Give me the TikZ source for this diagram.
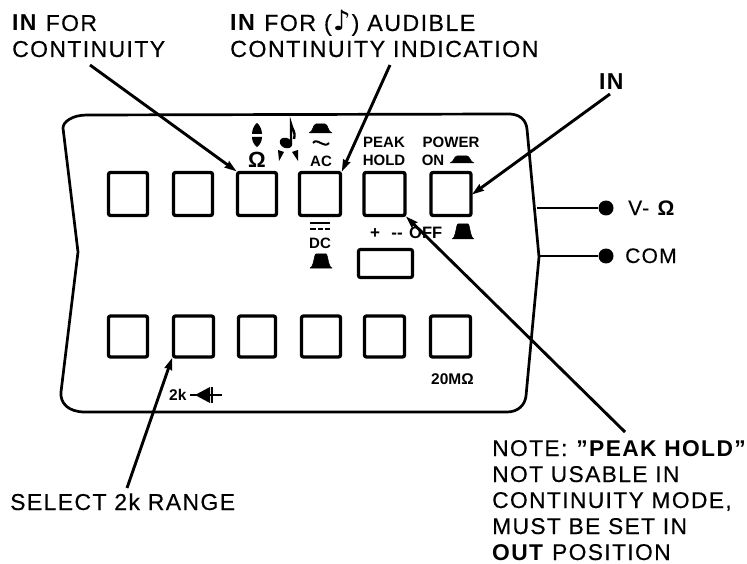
\documentclass[tikz,border=0pt]{standalone}
\usepackage{fontspec}
\setmainfont{Liberation Sans}[LetterSpace=6,UprightFeatures={FakeBold=0.35}]
\newfontfamily\plainsmall{Liberation Sans}
\newfontfamily\symfont{DejaVu Sans Bold}
\usetikzlibrary{arrows.meta}
\tikzset{
  outline/.style={line width=2.7pt,line join=round},
  btn/.style={draw,line width=3.3pt,rounded corners=2pt,inner sep=0pt,minimum width=#1,minimum height=43pt},
  btn/.default=39pt,
  leader/.style={line width=2.9pt,-{Stealth[length=12pt,width=7.5pt,inset=1pt]},shorten >=-1pt},
  lead/.style={line width=2.6pt},
  label/.style={inner sep=0pt,anchor=base west,align=left,font=\fontsize{23}{26}\selectfont},
  small/.style={inner sep=0pt,anchor=base,align=center,font=\plainsmall\bfseries\fontsize{15}{18}\selectfont},
  tiny/.style={inner sep=0pt,anchor=base west,font=\plainsmall\bfseries\fontsize{15.5}{15}\selectfont},
  hat/.style={fill=black,draw=black,line width=0.5pt,line join=round},
  term/.style={circle,fill=black,inner sep=0pt,minimum size=15pt},
}
\begin{document}
\begin{tikzpicture}[x=1pt,y=-1pt]
\useasboundingbox (0,0) rectangle (747,564);
% panel outline
\draw[outline] (87,115) -- (505,114) .. controls (520,113) and (526,120) .. (527,129)
  -- (539,257) -- (526,396) .. controls (525,405) and (518,412) .. (507,412)
  -- (85,412) .. controls (68,412) and (60,403) .. (61,392)
  -- (78,252) -- (63,128) .. controls (63,122) and (72,115) .. (87,115) -- cycle;
% buttons
\node[btn] (b1) at (128,194) {};
\node[btn] (b2) at (193,194) {};
\node[btn] (b3) at (257,194) {};
\node[btn=41pt] (b4) at (320,194) {};
\node[btn=41pt] (b5) at (384.5,194) {};
\node[btn=40pt] (b6) at (451,194) {};
\node[btn,minimum height=41pt] (c1) at (128,336.5) {};
\node[btn=40pt,minimum height=41pt] (c2) at (193.5,336.5) {};
\node[btn=37pt,minimum height=41pt] (c3) at (257,336.5) {};
\node[btn=39pt,minimum height=41pt] (c4) at (321,336.5) {};
\node[btn=40pt,minimum height=41pt] (c5) at (384.5,336.5) {};
\node[btn=40pt,minimum height=41pt] (c6) at (450.5,336.5) {};
\node[draw,line width=3.2pt,rounded corners=2pt,inner sep=0pt,minimum width=54pt,minimum height=28pt] (sw) at (385.5,263.5) {};
% terminals
\node[term] (tv) at (606,208) {};
\node[term] (tc) at (606,256) {};
\coordinate (jv) at (537,208);
\coordinate (jc) at (539,256);
\draw[lead] (jv) -- (tv);
\draw[lead] (jc) -- (tc);
% labels
\node[label] (l1) at (12,57) {\textbf{IN} FOR\\CONTINUITY};
\node[label,font=\fontsize{23.3}{26}\selectfont] (l2) at (230,57) {\textbf{IN} FOR (\kern1pt{\symfont\fontsize{28}{26}\selectfont\char"266A}\kern1pt) AUDIBLE\\CONTINUITY INDICATION};
\node[label] (l3) at (599,90) {\textbf{IN}};
\node[label,font=\fontsize{21}{26}\selectfont] (l4) at (628,215) {V- \textbf{Ω}};
\node[label,font=\fontsize{21}{26}\selectfont] (l5) at (625,263) {COM};
\node[label] (l6) at (10,510) {SELECT 2k RANGE};
\node[label,font=\fontsize{22.8}{26}\selectfont] (l7) at (492,560) {NOTE: \textbf{''PEAK HOLD''}\\NOT USABLE IN\\CONTINUITY MODE,\\MUST BE SET IN\\\textbf{OUT} POSITION};
% leaders
\coordinate (s1) at (90,65);
\coordinate (s2) at (390,65);
\coordinate (s3) at (610,94);
\coordinate (s4) at (625,432);
\coordinate (s5) at (127,488);
\draw[leader] (s1) -- (b3.north west);
\draw[leader] (s2) -- (b4.north east);
\draw[leader] (s3) -- (b6.east);
\draw[leader] (s4) -- (b5.south east);
\draw[leader] (s5) -- (c2.south west);
% panel legends
\node[small] (p1) at (384,148) {PEAK};
\node[small] (p2) at (384,166) {HOLD};
\node[small] (p3) at (451,148) {POWER};
\node[small] (p4) at (433,166) {ON};
\node[small] (p5) at (321,167) {AC};
\node[small] (p6) at (320,248) {DC};
\node[small,font=\plainsmall\bfseries\fontsize{17}{18}\selectfont] (pp) at (375,239) {+};
\node[small,font=\plainsmall\bfseries\fontsize{17}{18}\selectfont] (pm) at (397,239) {--};
\node[small,anchor=base west,font=\plainsmall\bfseries\fontsize{16.5}{18}\selectfont] (pf) at (409,239) {OFF};
\node[small,font=\plainsmall\bfseries\fontsize{22}{22}\selectfont] (om) at (257,168) {Ω};
\node[tiny] (k2) at (169,400) {2k};
\node[tiny] (m20) at (431,384) {20MΩ};
% ohm arrows
\fill[line join=round] (257,123) .. controls (260,125) and (262,130) .. (262,134) -- (252,134) .. controls (252,130) and (254,125) .. (257,123) -- cycle;
\fill (252,137) -- (262,137) .. controls (262,141) and (260,145) .. (257,147) .. controls (254,145) and (252,141) .. (252,137) -- cycle;
% music note
\fill[rotate around={-25:(286,143)}] (286,143) ellipse (6.5 and 5);
\draw[line width=2.4pt] (291,143) -- (291,124) .. controls (292,130) and (296,131) .. (294,139);
\fill (278,150) -- (284,152) -- (279,161) -- cycle;
\fill (298,150) -- (292,152) -- (298,161) -- cycle;
% hats
\fill[hat] (309,133) .. controls (313,132) and (313,124) .. (316,124) -- (325,124) .. controls (328,124) and (328,132) .. (332,133) -- cycle;
\fill[hat] (450,163) .. controls (454,162) and (454,156) .. (457,156) -- (467,156) .. controls (470,156) and (470,162) .. (474,163) -- cycle;
\fill[hat] (452,239) .. controls (456,238) and (456,224) .. (458,224) -- (468,224) .. controls (470,224) and (470,238) .. (474,239) -- cycle;
\fill[hat] (310,268) .. controls (314,267) and (314,254) .. (316,254) -- (326,254) .. controls (328,254) and (328,267) .. (332,268) -- cycle;
% tilde
\draw[line width=2pt] (313,143) .. controls (317,137) and (324,149) .. (329,143);
% DC sign
\draw[line width=2.2pt] (310,223) -- (330,223);
\draw[line width=2.2pt] (310,229) -- (316,229) (318,229) -- (323,229) (325,229) -- (330,229);
% diode
\draw[line width=2pt] (190,395) -- (222,395);
\fill (195,395) -- (210,387) -- (210,403) -- cycle;
\draw[line width=2.2pt] (212,387) -- (212,403);
\end{tikzpicture}
\end{document}
